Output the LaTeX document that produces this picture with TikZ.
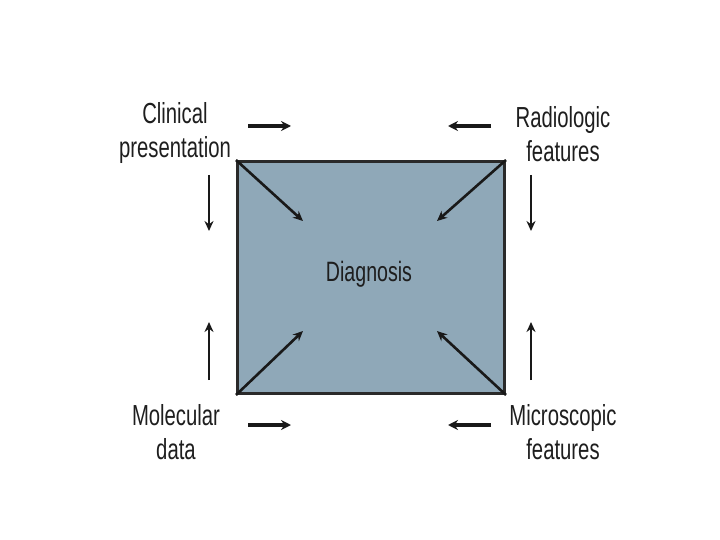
\documentclass[tikz,border=0pt]{standalone}
\usepackage{fontspec}
\setmainfont[FakeStretch=0.70]{Liberation Sans}
\usetikzlibrary{arrows.meta}
\definecolor{boxfill}{HTML}{8FA8B8}
\definecolor{boxline}{HTML}{2A2A2A}
\definecolor{txt}{HTML}{1E1E1E}
\tikzset{
  lbl/.style={align=center, text=txt, font=\fontsize{29}{34}\selectfont, inner sep=0pt},
  arr/.style={draw=black!90, line width=2.6pt, -{Stealth[length=10pt,width=9pt]}},
  harr/.style={arr, line width=3.4pt, -{Stealth[length=10pt,width=10pt]}},
}
\begin{document}
\begin{tikzpicture}[x=1pt,y=-1pt]
\useasboundingbox (0,0) rectangle (720,540);
\node[draw=boxline, fill=boxfill, line width=3pt, minimum width=267pt, minimum height=232pt, inner sep=0pt, anchor=north west] (box) at (236,160) {};
\node[text=txt, font=\fontsize{28}{30}\selectfont, inner sep=0pt] (diag) at (369,274) {Diagnosis};
% labels
\node[lbl] (clin) at (175,133) {Clinical\\presentation};
\node[lbl] (rad) at (563,134) {Radiologic\\features};
\node[lbl] (mol) at (176,432) {Molecular\\data};
\node[lbl] (mic) at (563,432) {Microscopic\\features};
% arrow end coordinates
\coordinate (tlh1) at (248,126); \coordinate (tlh2) at (291,126);
\coordinate (tlv1) at (209,175); \coordinate (tlv2) at (209,231);
\coordinate (tld) at (303,221);
\coordinate (trh1) at (491,126); \coordinate (trh2) at (448,126);
\coordinate (trv1) at (531,175); \coordinate (trv2) at (531,231);
\coordinate (trd) at (437,221);
\coordinate (blh1) at (248,425); \coordinate (blh2) at (291,425);
\coordinate (blv1) at (209,380); \coordinate (blv2) at (209,322);
\coordinate (bld) at (303,331);
\coordinate (brh1) at (491,425); \coordinate (brh2) at (448,425);
\coordinate (brv1) at (531,380); \coordinate (brv2) at (531,322);
\coordinate (brd) at (437,331);
% arrows
\draw[harr] (tlh1) -- (tlh2);
\draw[arr] (tlv1) -- (tlv2);
\draw[arr] (box.north west) -- (tld);
\draw[harr] (trh1) -- (trh2);
\draw[arr] (trv1) -- (trv2);
\draw[arr] (box.north east) -- (trd);
\draw[harr] (blh1) -- (blh2);
\draw[arr] (blv1) -- (blv2);
\draw[arr] (box.south west) -- (bld);
\draw[harr] (brh1) -- (brh2);
\draw[arr] (brv1) -- (brv2);
\draw[arr] (box.south east) -- (brd);
\end{tikzpicture}
\end{document}
